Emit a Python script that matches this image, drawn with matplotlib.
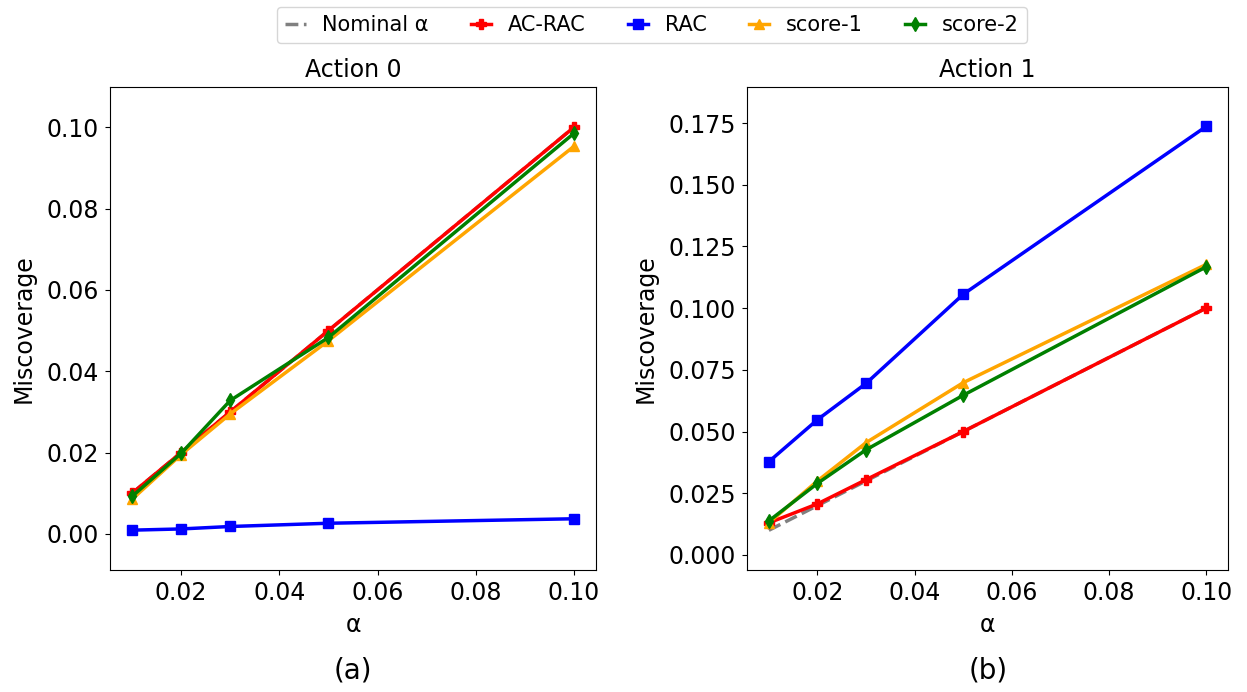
import matplotlib
matplotlib.use("Agg")
import matplotlib.pyplot as plt

alpha = [0.01, 0.02, 0.03, 0.05, 0.10]

# Action 0
a0_acrac = [0.0100, 0.0200, 0.0300, 0.0500, 0.1000]
a0_rac = [0.0009, 0.0012, 0.0018, 0.0026, 0.0037]
a0_s1 = [0.0085, 0.0195, 0.0295, 0.0475, 0.0953]
a0_s2 = [0.0092, 0.0198, 0.0328, 0.0483, 0.0985]

# Action 1
a1_acrac = [0.0130, 0.0207, 0.0305, 0.0500, 0.1000]
a1_rac = [0.0378, 0.0548, 0.0695, 0.1056, 0.1736]
a1_s1 = [0.0130, 0.0300, 0.0455, 0.0698, 0.1177]
a1_s2 = [0.0138, 0.0290, 0.0426, 0.0647, 0.1167]

fig = plt.figure(figsize=(12.47, 6.92), dpi=100)
ax1 = fig.add_axes([110/1247, 1-570/692, 486/1247, 483/692])
ax2 = fig.add_axes([747/1247, 1-570/692, 481/1247, 483/692])

lw = 2.5
ms = 7.5
fs = 17

def draw(ax, acrac, rac, s1, s2):
    ax.plot(alpha, alpha, '--', color='gray', lw=lw, label='Nominal α')
    ax.plot(alpha, acrac, '-P', color='red', lw=lw, ms=ms, label='AC-RAC')
    ax.plot(alpha, rac, '-s', color='blue', lw=lw, ms=ms, label='RAC')
    ax.plot(alpha, s1, '-^', color='orange', lw=lw, ms=ms, label='score-1')
    ax.plot(alpha, s2, '-d', color='green', lw=lw, ms=ms, label='score-2')
    ax.tick_params(labelsize=fs, pad=4.5)
    ax.set_xlabel('α', fontsize=fs, labelpad=6)
    ax.set_ylabel('Miscoverage', fontsize=fs, labelpad=8)
    ax.set_xticks([0.02, 0.04, 0.06, 0.08, 0.10])
    ax.set_xlim(0.0055, 0.1045)

draw(ax1, a0_acrac, a0_rac, a0_s1, a0_s2)
ax1.set_ylim(-0.0089, 0.1099)
ax1.set_yticks([0.0, 0.02, 0.04, 0.06, 0.08, 0.10])
ax1.set_title('Action 0', fontsize=fs, pad=7.5)

draw(ax2, a1_acrac, a1_rac, a1_s1, a1_s2)
ax2.set_ylim(-0.0061, 0.1896)
ax2.set_yticks([0.0, 0.025, 0.05, 0.075, 0.1, 0.125, 0.15, 0.175])
ax2.set_yticklabels(['0.000', '0.025', '0.050', '0.075', '0.100', '0.125', '0.150', '0.175'])
ax2.set_title('Action 1', fontsize=fs, pad=7.5)

fig.text(353/1247, 1-670/692, '(a)', fontsize=20, ha='center', va='center')
fig.text(988/1247, 1-670/692, '(b)', fontsize=20, ha='center', va='center')

handles, labels = ax1.get_legend_handles_labels()
fig.legend(handles, labels, loc='center', bbox_to_anchor=(652/1247, 1-25/692),
           ncol=5, fontsize=15, frameon=True, handlelength=1.0, columnspacing=2.0)

fig.savefig('out.png', dpi=100)
